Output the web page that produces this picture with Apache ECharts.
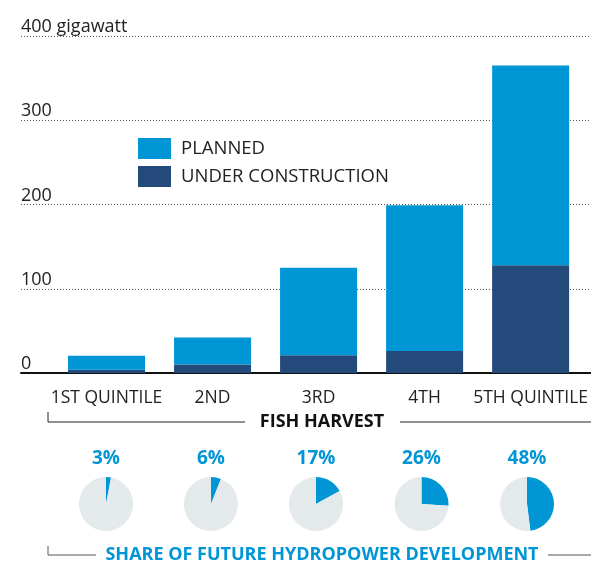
<!DOCTYPE html>
<html>
<head>
<meta charset="utf-8">
<script src="https://cdn.jsdelivr.net/npm/echarts@6/dist/echarts.min.js"></script>
<style>
  html, body { margin: 0; padding: 0; background: #fff; }
  #chart { width: 591px; height: 562px; }
</style>
</head>
<body>
<div id="chart"></div>
<script>
// data (gigawatt)
const categories = ['1ST QUINTILE', '2ND', '3RD', '4TH', '5TH QUINTILE'];
const underConstruction = [4, 10, 21, 26, 128];
const planned = [16.5, 32, 104, 173, 237];
const shares = [3, 6, 17, 26, 48];
const yTicks = [0, 100, 200, 300, 400];

const BLUE = '#0096d6';
const DARK = '#24497b';
const FONT = 'Open Sans';

const chart = echarts.init(document.getElementById('chart'));

// pie centres in pixels
const pieX = [106, 211, 316, 421.5, 527];
const pieY = 504;

const pies = shares.map((s, i) => ({
  type: 'pie',
  center: [pieX[i], pieY],
  radius: 27,
  startAngle: 90,
  clockwise: true,
  silent: true,
  label: { show: false },
  labelLine: { show: false },
  emphasis: { disabled: true },
  data: [
    { value: s, itemStyle: { color: BLUE } },
    { value: 100 - s, itemStyle: { color: '#e4e9ec' } }
  ]
}));

const shareLabels = shares.map((s, i) => ({
  type: 'text',
  x: pieX[i],
  y: 459,
  style: {
    text: s + '%',
    fill: BLUE,
    font: 'bold 19px "' + FONT + '"',
    textAlign: 'center',
    textVerticalAlign: 'middle'
  }
}));

const option = {
  backgroundColor: '#fff',
  animation: false,
  legend: {
    orient: 'vertical',
    left: 133,
    top: 133,
    itemWidth: 33,
    itemHeight: 21,
    itemGap: 7,
    icon: 'rect',
    selectedMode: false,
    data: ['PLANNED', 'UNDER CONSTRUCTION'],
    textStyle: { fontFamily: FONT, fontSize: 18.5, color: '#222', padding: [0, 0, 0, 5] }
  },
  grid: [
    { left: 21, right: 0, top: 36, bottom: 189 },
    { left: 53.5, right: 6.5, top: 36, bottom: 189 }
  ],
  xAxis: [
    {
      gridIndex: 0, type: 'value', min: 0, max: 1,
      axisLine: { show: true, lineStyle: { color: '#111', width: 2 } },
      axisTick: { show: false }, axisLabel: { show: false }, splitLine: { show: false }
    },
    {
      gridIndex: 1, type: 'category', data: categories,
      axisLine: { show: false }, axisTick: { show: false },
      axisLabel: { fontFamily: FONT, fontSize: 17.5, color: '#222', margin: 16, interval: 0 }
    }
  ],
  yAxis: [
    {
      gridIndex: 0, type: 'value', min: 0, max: 400, interval: 100,
      axisLine: { show: false }, axisTick: { show: false },
      splitLine: { show: true, lineStyle: { color: '#555', width: 1, type: [1, 2] } },
      axisLabel: {
        inside: true,
        align: 'left',
        verticalAlign: 'bottom',
        margin: 0,
        padding: [0, 0, 0, 0],
        fontFamily: FONT,
        fontSize: 18,
        color: '#222',
        formatter: v => (v === yTicks[yTicks.length - 1] ? v + ' gigawatt' : String(v))
      }
    },
    {
      gridIndex: 1, type: 'value', min: 0, max: 400, show: false
    }
  ],
  series: [
    {
      name: 'UNDER CONSTRUCTION', type: 'bar', stack: 'gw',
      xAxisIndex: 1, yAxisIndex: 1, barWidth: 77,
      itemStyle: { color: DARK }, silent: true,
      data: underConstruction
    },
    {
      name: 'PLANNED', type: 'bar', stack: 'gw',
      xAxisIndex: 1, yAxisIndex: 1, barWidth: 77,
      itemStyle: { color: BLUE }, silent: true,
      data: planned
    }
  ].concat(pies),
  graphic: [
    // fish harvest bracket
    { type: 'polyline', shape: { points: [[48, 412], [48, 422], [245, 422]] },
      style: { stroke: '#222', lineWidth: 1, fill: null } },
    { type: 'line', shape: { x1: 400, y1: 422, x2: 591, y2: 422 },
      style: { stroke: '#222', lineWidth: 1 } },
    { type: 'text', x: 322, y: 422,
      style: { text: 'FISH HARVEST', fill: '#111', font: 'bold 18px "' + FONT + '"',
        textAlign: 'center', textVerticalAlign: 'middle' } },
    // share bracket
    { type: 'polyline', shape: { points: [[48, 546], [48, 555], [96, 555]] },
      style: { stroke: '#555', lineWidth: 1, fill: null } },
    { type: 'line', shape: { x1: 548, y1: 555, x2: 591, y2: 555 },
      style: { stroke: '#555', lineWidth: 1 } },
    { type: 'text', x: 322, y: 555,
      style: { text: 'SHARE OF FUTURE HYDROPOWER DEVELOPMENT', fill: BLUE,
        font: 'bold 18px "' + FONT + '"', textAlign: 'center', textVerticalAlign: 'middle' } }
  ].concat(shareLabels)
};

chart.setOption(option);
</script>
</body>
</html>
